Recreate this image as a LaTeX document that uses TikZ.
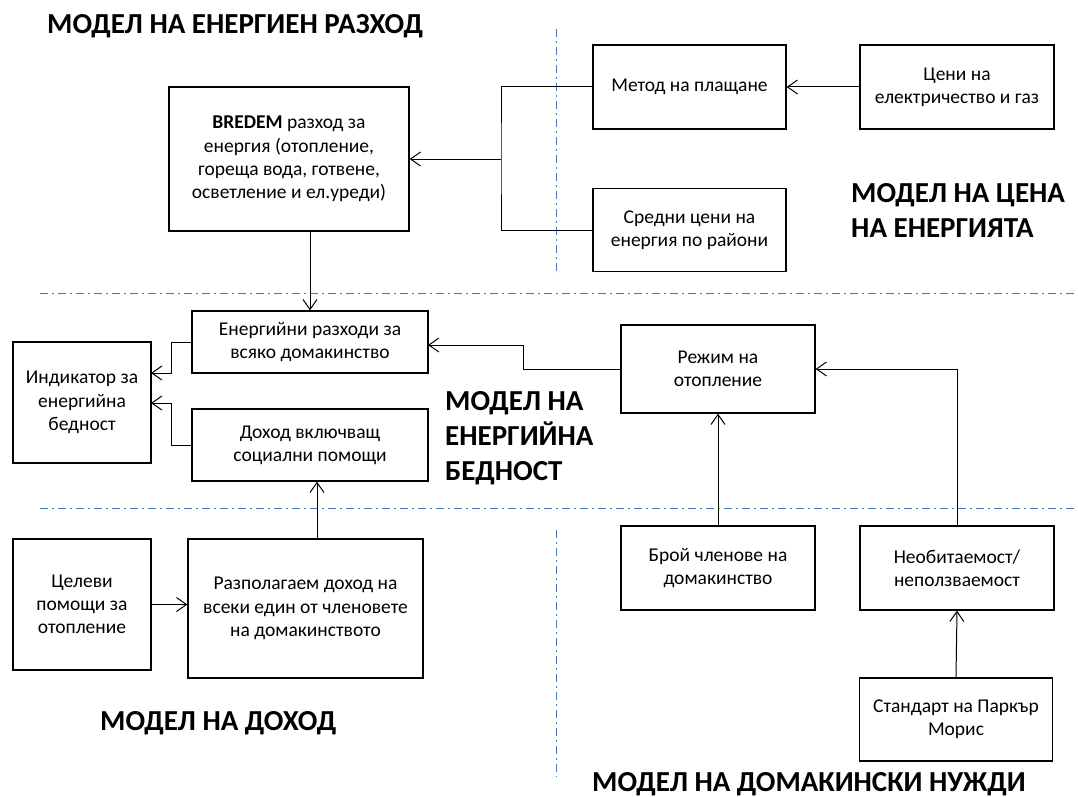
\documentclass[tikz,border=0pt]{standalone}
\usepackage{fontspec}
\setmainfont{Carlito}
\usetikzlibrary{arrows.meta,calc}
\definecolor{sepblue}{RGB}{68,114,196}
\begin{document}
\begin{tikzpicture}[x=1pt,y=-1pt,
  box/.style={draw=black,line width=1.3pt,inner sep=0pt,align=center,
    font=\fontsize{19.5}{23.3}\selectfont},
  arr/.style={line width=1pt,-{Straight Barb[length=10pt,width=14pt,line width=1pt]}},
  conn/.style={line width=1pt},
  sep/.style={draw=sepblue,line width=1pt,dash pattern=on 8pt off 4pt on 2pt off 4pt},
  ttl/.style={inner sep=0pt,font=\fontsize{29}{35}\bfseries\selectfont,align=left}]
\useasboundingbox (0,0) rectangle (1078,797);
% separators
\draw[sep] (40,293) -- (1078,293);
\draw[sep] (40,508) -- (1078,508);
\draw[sep] (556,29) -- (556,275);
\draw[sep] (556,530) -- (556,777);
% boxes
\node[box,minimum width=240pt,minimum height=144pt] (bredem) at (289,159)
  {\textbf{BREDEM} разход за\\енергия (отопление,\\гореща вода, готвене,\\осветление и ел.уреди)};
\node[box,minimum width=193pt,minimum height=84pt] (metod) at (689.5,87) {Метод на плащане};
\node[box,minimum width=194pt,minimum height=84pt] (ceni) at (957,87) {Цени на\\електричество и газ};
\node[box,minimum width=193pt,minimum height=83pt] (sredni) at (689.5,230) {Средни цени на\\енергия по райони};
\node[box,minimum width=236pt,minimum height=62pt] (enrazh) at (310,342) {Енергийни разходи за\\всяко домакинство};
\node[box,minimum width=138pt,minimum height=121pt] (indik) at (82,402.5) {Индикатор за\\енергийна\\бедност};
\node[box,minimum width=236pt,minimum height=72pt] (dohod) at (310,445) {Доход включващ\\социални помощи};
\node[box,minimum width=194pt,minimum height=88pt] (rezhim) at (718,369) {Режим на\\отопление};
\node[box,minimum width=138pt,minimum height=131pt] (celevi) at (82,604.5) {Целеви\\помощи за\\отопление};
\node[box,minimum width=235pt,minimum height=139pt] (razpol) at (305.5,608.5) {Разполагаем доход на\\всеки един от членовете\\на домакинството};
\node[box,minimum width=194pt,minimum height=84pt] (broj) at (718,568) {Брой членове на\\домакинство};
\node[box,minimum width=194pt,minimum height=84pt] (neobit) at (957,568) {Необитаемост/\\неползваемост};
\node[box,minimum width=193pt,minimum height=83pt] (standart) at (956,719.5) {Стандарт на Паркър\\Морис};
% titles
\node[ttl,anchor=base west] (t1) at (47,34) {МОДЕЛ НА ЕНЕРГИЕН РАЗХОД};
\node[ttl,anchor=north west] (t2) at (851,183) {МОДЕЛ НА ЦЕНА\\НА ЕНЕРГИЯТА};
\node[ttl,anchor=north west] (t3) at (445,391) {МОДЕЛ НА\\ЕНЕРГИЙНА\\БЕДНОСТ};
\node[ttl,anchor=base west] (t4) at (100,730) {МОДЕЛ НА ДОХОД};
\node[ttl,anchor=base west] (t5) at (592,791) {МОДЕЛ НА ДОМАКИНСКИ НУЖДИ};
% connectors
\coordinate (brk) at (501,159);
\coordinate (ia) at (151,373);
\coordinate (ib) at (151,403);
\coordinate (ee) at (428,345);
\coordinate (rt) at (317,539);
\draw[arr] (ceni.west) -- (metod.east);
\draw[conn] (metod.west) -| (brk) |- (sredni.west);
\draw[arr] (brk) -- (brk -| bredem.east);
\draw[arr] (enrazh.north |- bredem.south) -- (enrazh.north);
\draw[arr] (enrazh.west) -- ++(-20,0) |- (ia);
\draw[arr] (dohod.west) -- ++(-20,0) |- (ib);
\draw[arr] (rt) -- (rt |- dohod.south);
\draw[arr] (celevi.east) -- (celevi.east -| razpol.west);
\draw[arr] (rezhim.west) -| (523,345) -- (ee);
\draw[arr] (broj.north) -- (rezhim.south);
\draw[arr] (neobit.north) |- (rezhim.east);
\draw[arr] (standart.north) -- (neobit.south);
\end{tikzpicture}
\end{document}
